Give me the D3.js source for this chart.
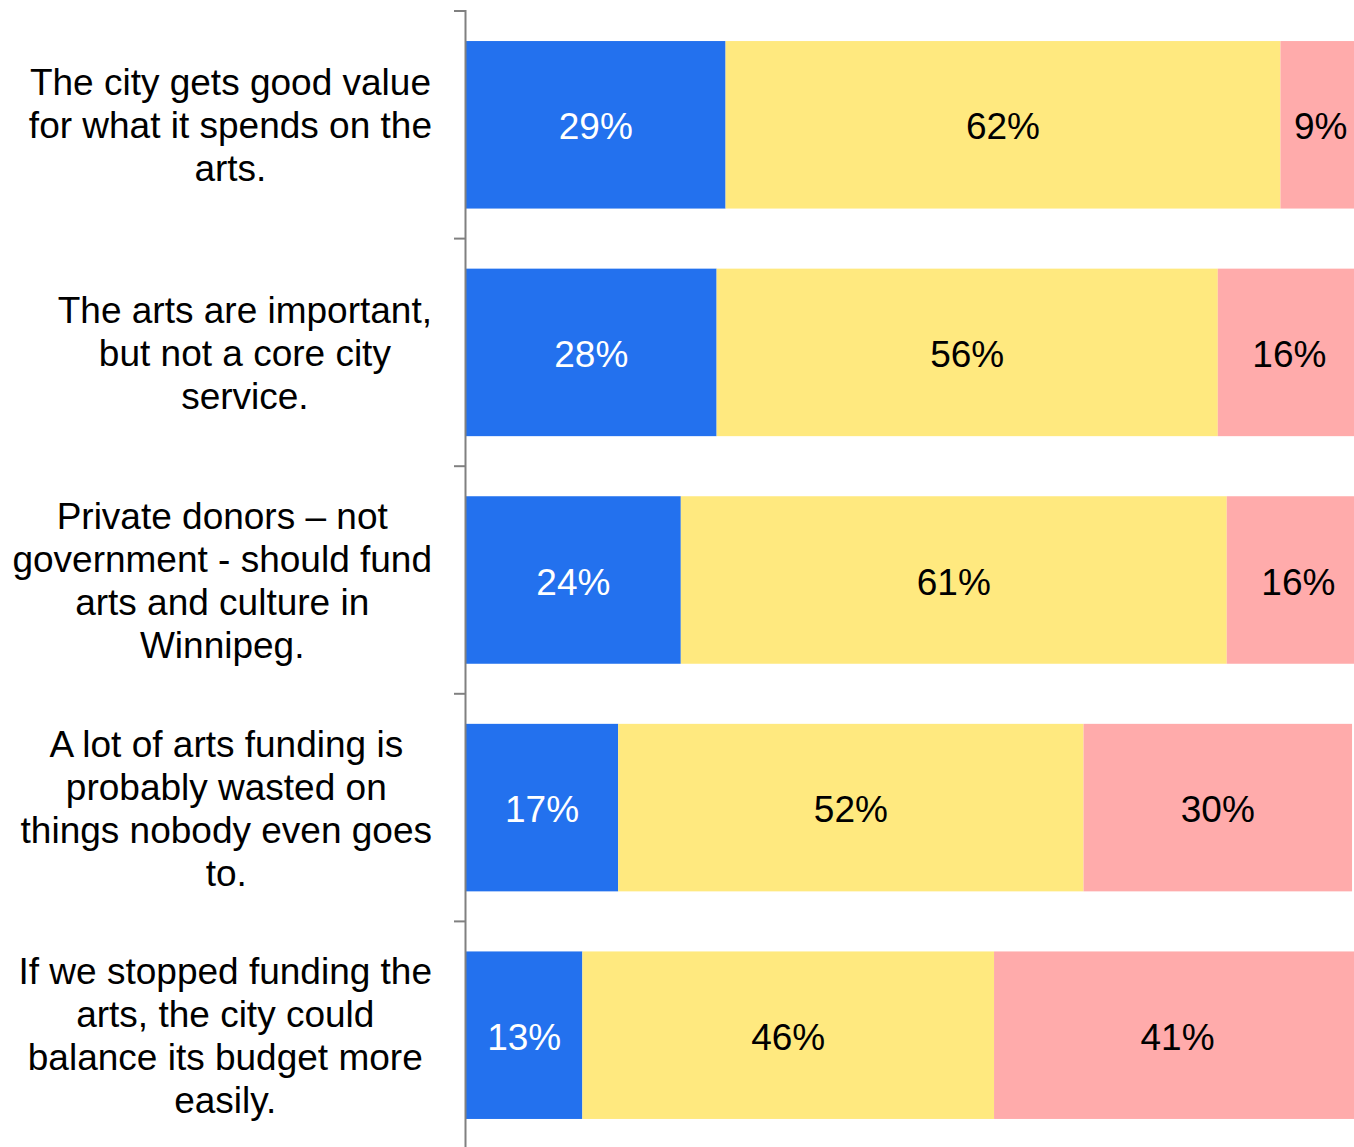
<!DOCTYPE html>
<html>
<head>
<meta charset="utf-8">
<script src="https://cdn.jsdelivr.net/npm/d3@7"></script>
<style>
  html, body { margin: 0; padding: 0; background: #fff; overflow: hidden; }
  svg { display: block; font-family: "Liberation Sans", Arial, sans-serif; }
</style>
</head>
<body>
<svg id="chart" width="1354" height="1147"></svg>
<script>
// Survey statements (one bar each), split into display lines
const statements = [
  ["The city gets good value", "for what it spends on the", "arts."],
  ["The arts are important,", "but not a core city", "service."],
  ["Private donors \u2013 not", "government - should fund", "arts and culture in", "Winnipeg."],
  ["A lot of arts funding is", "probably wasted on", "things nobody even goes", "to."],
  ["If we stopped funding the", "arts, the city could", "balance its budget more", "easily."]
];

// Response shares, percent
const agree    = [29, 28, 24, 17, 13];
const disagree = [62, 56, 61, 52, 46];
const unsure   = [9, 16, 16, 30, 41];

const seriesNames  = ["agree", "disagree", "unsure"];
const seriesColors = ["#2371ee", "#ffe97f", "#ffabab"];
const labelColors  = ["#ffffff", "#000000", "#000000"];

const rows = statements.map((s, i) => ({
  id: i, lines: s, agree: agree[i], disagree: disagree[i], unsure: unsure[i]
}));

const svg = d3.select("#chart");
const axisX = 466, plotTop = 11, plotBottom = 1149;
const fontSize = 37, lineH = 43;

const x = d3.scaleLinear().domain([0, 100]).range([axisX, axisX + 895]);
const y = d3.scaleBand().domain(rows.map(d => d.id)).range([plotTop, plotBottom])
  .paddingInner(0.264).paddingOuter(0.132);

const layers = d3.stack().keys(seriesNames)(rows);

const g = svg.append("g");

layers.forEach((layer, li) => {
  g.append("g").selectAll("rect").data(layer).join("rect")
    .attr("x", d => x(d[0]))
    .attr("y", d => y(d.data.id))
    .attr("width", d => x(d[1]) - x(d[0]))
    .attr("height", y.bandwidth())
    .attr("fill", seriesColors[li]);

  g.append("g").selectAll("text").data(layer).join("text")
    .attr("x", d => (x(d[0]) + x(d[1])) / 2)
    .attr("y", d => y(d.data.id) + y.bandwidth() / 2 + 2)
    .attr("text-anchor", "middle")
    .attr("dominant-baseline", "central")
    .attr("font-size", fontSize)
    .attr("fill", labelColors[li])
    .text(d => (d[1] - d[0]) + "%");
});

// Category axis: vertical line with outward ticks at band boundaries
const tickYs = d3.range(rows.length + 1)
  .map(i => plotTop + i * (plotBottom - plotTop) / rows.length);
const axisG = svg.append("g");
axisG.append("line")
  .attr("x1", axisX - 0.5).attr("x2", axisX - 0.5)
  .attr("y1", plotTop - 1).attr("y2", plotBottom)
  .attr("stroke", "#808080").attr("stroke-width", 2);
axisG.selectAll("line.tick").data(tickYs).join("line").attr("class", "tick")
  .attr("x1", axisX - 12).attr("x2", axisX)
  .attr("y1", d => d).attr("y2", d => d)
  .attr("stroke", "#808080").attr("stroke-width", 2);

// Category labels: block right-aligned to the axis, lines centred within block
const labelRight = 432;
rows.forEach(r => {
  const t = svg.append("text")
    .attr("font-size", fontSize)
    .attr("fill", "#000")
    .attr("text-anchor", "middle");
  const spans = r.lines.map(l => t.append("tspan").text(l));
  const maxW = d3.max(spans, s => s.node().getComputedTextLength());
  const cx = labelRight - maxW / 2;
  const cy = y(r.id) + y.bandwidth() / 2 + 1;
  const n = r.lines.length;
  spans.forEach((s, i) => {
    s.attr("x", cx)
     .attr("y", cy + (i - (n - 1) / 2) * lineH)
     .attr("dominant-baseline", "central");
  });
});
</script>
</body>
</html>
